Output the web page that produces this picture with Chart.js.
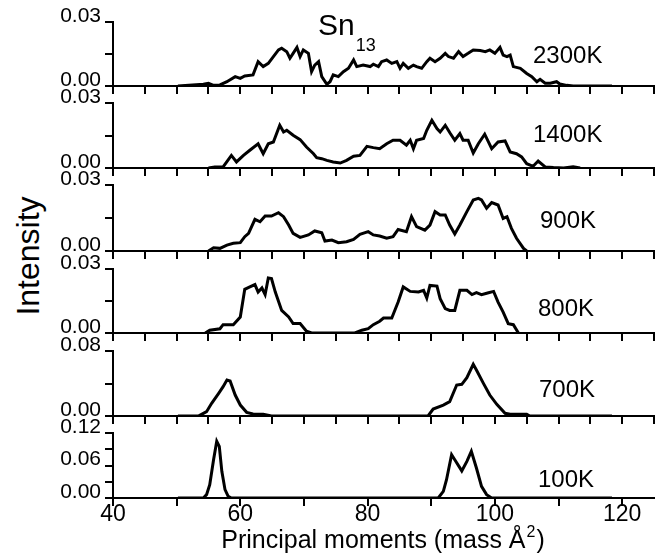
<!DOCTYPE html>
<html>
<head>
<meta charset="utf-8">
<script src="https://cdn.jsdelivr.net/npm/chart.js@4.4.0/dist/chart.umd.min.js"></script>
<style>
  body { margin: 0; background: #fff; }
  #wrap { position: relative; width: 659px; height: 557px; overflow: hidden; font-family: "Liberation Sans", Arial, sans-serif; }
  #wrap canvas { position: absolute; left: 0; }
  #ytitle { position: absolute; left: 28px; top: 256px; transform: translate(-50%, -50%) rotate(-90deg);
            font-size: 32px; line-height: 1; white-space: nowrap; color: #000; }
</style>
</head>
<body>
<div id="wrap">
  <div id="ytitle">Intensity</div>
</div>
<script>
// principal moments (mass Å^2) and intensities, one pair of arrays per temperature
const moment2300K = [50.2, 54.2, 55.0, 55.8, 56.8, 57.9, 59.2, 60.0, 60.7, 62.0,
  62.8, 63.6, 64.4, 65.2, 66.0, 66.5, 67.3, 67.8, 68.3, 68.9,
  69.4, 69.9, 70.7, 71.2, 71.7, 72.3, 72.8, 73.6, 74.1, 74.6,
  75.4, 76.2, 77.0, 77.8, 78.3, 79.3, 80.4, 80.9, 81.7, 82.2,
  83.0, 83.8, 84.6, 85.1, 85.6, 86.4, 87.2, 87.7, 88.5, 89.3,
  89.8, 90.6, 91.4, 92.2, 92.7, 93.5, 94.3, 95.0, 95.8, 96.6,
  97.7, 98.5, 99.2, 100.0, 100.8, 101.3, 101.9, 102.4, 102.9, 104.0,
  105.0, 105.8, 106.6, 107.1, 107.9, 108.7, 109.7, 110.2, 111.3, 112.3,
  118.4];
const intensity2300K = [0, 0.0008, 0.0013, 0.0003, 0.0005, 0.0020, 0.0044, 0.0036, 0.0047, 0.0052,
  0.0114, 0.0091, 0.0106, 0.0138, 0.0169, 0.0177, 0.0161, 0.0130, 0.0153, 0.0181,
  0.0138, 0.0169, 0.0153, 0.0067, 0.0098, 0.0114, 0.0044, 0.0008, 0.0020, 0.0052,
  0.0044, 0.0067, 0.0083, 0.0122, 0.0091, 0.0098, 0.0091, 0.0102, 0.0091, 0.0114,
  0.0122, 0.0106, 0.0114, 0.0083, 0.0106, 0.0083, 0.0098, 0.0091, 0.0083, 0.0114,
  0.0130, 0.0114, 0.0130, 0.0153, 0.0138, 0.0130, 0.0161, 0.0138, 0.0153, 0.0169,
  0.0166, 0.0161, 0.0169, 0.0153, 0.0181, 0.0145, 0.0138, 0.0145, 0.0091, 0.0083,
  0.0059, 0.0044, 0.0020, 0.0031, 0.0013, 0.0013, 0.0020, 0.0009, 0.0003, 0,
  0];

const moment1400K = [55.0, 56.0, 57.3, 58.6, 59.4, 60.5, 61.5, 62.8, 63.6, 64.4,
  65.2, 66.2, 66.8, 67.3, 68.3, 69.4, 70.4, 71.5, 72.0, 72.8,
  73.6, 74.6, 75.7, 76.7, 77.8, 78.8, 79.9, 80.9, 81.9, 83.0,
  84.0, 85.1, 86.1, 86.7, 87.2, 87.7, 88.8, 89.3, 90.1, 90.9,
  91.4, 92.2, 93.0, 93.7, 94.5, 95.0, 95.8, 96.6, 97.4, 98.4,
  99.5, 100.5, 101.6, 102.4, 103.4, 104.2, 105.0, 106.0, 106.8, 107.9,
  109.2, 110.8, 112.3, 113.4];
const intensity1400K = [0, 0.0005, 0.0005, 0.0058, 0.0028, 0.0058, 0.0082, 0.0112, 0.0066, 0.0112,
  0.0120, 0.0197, 0.0166, 0.0174, 0.0151, 0.0131, 0.0097, 0.0066, 0.0048, 0.0043,
  0.0035, 0.0028, 0.0023, 0.0035, 0.0054, 0.0058, 0.0100, 0.0094, 0.0089, 0.0112,
  0.0128, 0.0128, 0.0105, 0.0128, 0.0089, 0.0128, 0.0136, 0.0174, 0.0220, 0.0182,
  0.0166, 0.0197, 0.0159, 0.0128, 0.0159, 0.0128, 0.0128, 0.0069, 0.0112, 0.0156,
  0.0089, 0.0120, 0.0125, 0.0074, 0.0066, 0.0051, 0.0020, 0.0008, 0.0032, 0.0005,
  0.0002, 0, 0.0006, 0];

const moment900K = [55.0, 55.8, 56.8, 57.9, 58.9, 60.0, 60.7, 61.3, 62.3, 63.1,
  63.9, 64.9, 66.0, 66.8, 67.6, 68.3, 69.4, 70.7, 71.7, 72.8,
  73.3, 74.4, 75.4, 76.7, 77.8, 78.8, 80.1, 80.9, 81.9, 83.0,
  84.0, 84.8, 86.1, 86.9, 87.7, 89.0, 89.8, 90.6, 91.4, 92.2,
  92.9, 93.7, 94.5, 95.6, 96.6, 97.4, 97.9, 98.7, 99.5, 100.5,
  101.3, 101.9, 102.6, 103.4, 104.5, 105.0];
const intensity900K = [0, 0.0015, 0.0012, 0.0027, 0.0035, 0.0038, 0.0065, 0.0080, 0.0144, 0.0133,
  0.0159, 0.0159, 0.0174, 0.0156, 0.0118, 0.0080, 0.0062, 0.0073, 0.0091, 0.0083,
  0.0045, 0.0050, 0.0038, 0.0042, 0.0053, 0.0076, 0.0088, 0.0073, 0.0068, 0.0058,
  0.0065, 0.0098, 0.0088, 0.0156, 0.0111, 0.0095, 0.0118, 0.0179, 0.0164, 0.0164,
  0.0118, 0.0077, 0.0118, 0.0179, 0.0232, 0.0239, 0.0232, 0.0194, 0.0220, 0.0209,
  0.0148, 0.0156, 0.0103, 0.0058, 0.0012, 0];

const moment800K = [54.5, 55.2, 56.8, 57.3, 58.9, 60.0, 60.7, 61.5, 62.3, 62.8,
  63.4, 63.9, 64.4, 64.9, 65.5, 66.5, 67.6, 68.3, 69.4, 70.4,
  71.2, 78.0, 79.1, 80.1, 80.9, 81.9, 82.5, 83.8, 84.8, 85.6,
  86.7, 88.0, 88.8, 89.3, 89.8, 90.9, 91.4, 92.2, 92.9, 93.7,
  94.5, 95.6, 96.4, 97.1, 97.9, 99.0, 99.8, 100.5, 101.3, 102.1,
  102.9, 103.7];
const intensity800K = [0, 0.0013, 0.0020, 0.0039, 0.0039, 0.0075, 0.0205, 0.0216, 0.0227, 0.0192,
  0.0211, 0.0180, 0.0258, 0.0255, 0.0192, 0.0106, 0.0075, 0.0044, 0.0044, 0.0008,
  0, 0, 0.0013, 0.0020, 0.0039, 0.0055, 0.0070, 0.0070, 0.0145, 0.0216,
  0.0195, 0.0192, 0.0200, 0.0164, 0.0223, 0.0220, 0.0161, 0.0114, 0.0106, 0.0106,
  0.0200, 0.0200, 0.0180, 0.0189, 0.0180, 0.0189, 0.0195, 0.0145, 0.0098, 0.0044,
  0.0039, 0];

const moment700K = [50.2, 53.4, 54.2, 54.7, 55.5, 56.6, 57.3, 57.9, 58.4, 59.2,
  60.0, 61.0, 62.0, 63.6, 64.9, 89.5, 90.3, 91.9, 92.9, 94.0,
  94.8, 95.6, 96.6, 97.1, 98.2, 99.2, 100.3, 101.6, 102.4, 105.0,
  105.5, 118.4];
const intensity700K = [0, 0, 0.0033, 0.0053, 0.0156, 0.0279, 0.0361, 0.0443, 0.0431, 0.0258,
  0.0135, 0.0045, 0.0025, 0.0021, 0, 0, 0.0086, 0.0135, 0.0176, 0.0381,
  0.0390, 0.0472, 0.0636, 0.0566, 0.0402, 0.0258, 0.0144, 0.0033, 0.0021, 0.0021,
  0, 0];

const moment100K = [50.2, 54.2, 54.7, 55.2, 55.8, 56.3, 56.7, 57.1, 57.6, 58.1,
  58.6, 91.1, 91.9, 92.4, 93.2, 93.7, 94.8, 95.6, 96.3, 97.1,
  97.9, 98.7, 99.5, 118.4];
const intensity100K = [0, 0, 0.0062, 0.0246, 0.0707, 0.1046, 0.0953, 0.0492, 0.0154, 0.0031,
  0, 0, 0.0123, 0.0338, 0.0800, 0.0707, 0.0500, 0.0677, 0.0861, 0.0554,
  0.0215, 0.0062, 0, 0];

const temperatures = ["2300K", "1400K", "900K", "800K", "700K", "100K"];
const yMaxima = [0.03, 0.03, 0.03, 0.03, 0.08, 0.12];
const yTickSteps = [0.015, 0.015, 0.015, 0.015, 0.04, 0.03];
const yLabelSteps = [0.03, 0.03, 0.03, 0.03, 0.08, 0.06];

const series = [
  [moment2300K, intensity2300K],
  [moment1400K, intensity1400K],
  [moment900K, intensity900K],
  [moment800K, intensity800K],
  [moment700K, intensity700K],
  [moment100K, intensity100K]
];

// panel frames on the page (top of plot area, bottom = zero line)
const panelTop = [22, 103, 185, 269, 351, 433];
const panelBottom = [86, 168, 251, 333, 416, 498];
const labelX = [533, 533, 540, 538, 539, 538];
const labelDy = [41, 39, 43, 47, 46, 54];
const FONT = '"Liberation Sans", Arial, sans-serif';
const PAD_TOP = 15;

// draws base text followed by a raised or lowered smaller part
function scriptText(ctx, base, small, x, y, baseSize, smallSize, shift) {
  ctx.font = baseSize + "px " + FONT;
  ctx.fillText(base, x, y);
  const w = ctx.measureText(base).width;
  ctx.font = smallSize + "px " + FONT;
  ctx.fillText(small, x + w + 1, y + shift);
  return w + 1 + ctx.measureText(small).width;
}

// temperature tag in each panel, the cluster name on the first one,
// and the axis title under the last one
const panelText = {
  id: "panelText",
  afterDraw(chart, args, opts) {
    const ctx = chart.ctx;
    const area = chart.chartArea;
    ctx.save();
    ctx.fillStyle = "#000";
    ctx.textAlign = "left";
    ctx.textBaseline = "alphabetic";
    ctx.font = "24px " + FONT;
    ctx.fillText(opts.label, opts.x, area.top + opts.dy);
    if (opts.cluster) {
      scriptText(ctx, "Sn", "13", 318, area.top + 13, 30, 18, 16);
    }
    if (opts.xTitle) {
      const y = area.bottom + 50;
      const head = "Principal moments (mass Å";
      ctx.font = "25px " + FONT;
      const wHead = ctx.measureText(head).width;
      ctx.font = "16px " + FONT;
      const wSup = ctx.measureText("2").width;
      ctx.font = "25px " + FONT;
      const wTail = ctx.measureText(")").width;
      let x = 383 - (wHead + wSup + 2 + wTail) / 2;
      ctx.fillText(head, x, y);
      x += wHead + 1;
      ctx.font = "16px " + FONT;
      ctx.fillText("2", x, y - 11);
      x += wSup + 1;
      ctx.font = "25px " + FONT;
      ctx.fillText(")", x, y);
    }
    ctx.restore();
  }
};

// keep label overhang from shrinking the plot area
function noOverhang(s) {
  s.paddingTop = 0;
  s.paddingBottom = 0;
  s.paddingLeft = 0;
  s.paddingRight = 0;
}

const wrap = document.getElementById("wrap");

series.forEach(([xs, ys], i) => {
  const last = i === series.length - 1;
  const xAxisH = last ? 557 - panelBottom[i] : 10;
  const h = PAD_TOP + (panelBottom[i] - panelTop[i]) + xAxisH;

  const canvas = document.createElement("canvas");
  canvas.width = 659;
  canvas.height = h;
  canvas.style.top = (panelTop[i] - PAD_TOP) + "px";
  wrap.appendChild(canvas);

  const labelStep = yLabelSteps[i];
  new Chart(canvas, {
    type: "line",
    data: {
      datasets: [{
        data: xs.map((x, k) => ({ x: x, y: ys[k] })),
        borderColor: "#000",
        borderWidth: 3,
        pointRadius: 0,
        tension: 0,
        fill: false
      }]
    },
    options: {
      responsive: false,
      animation: false,
      events: [],
      layout: { padding: { left: 0, right: 5, top: PAD_TOP, bottom: 0 } },
      plugins: {
        legend: { display: false },
        tooltip: { enabled: false },
        panelText: { label: temperatures[i], x: labelX[i], dy: labelDy[i], cluster: i === 0, xTitle: last }
      },
      scales: {
        x: {
          type: "linear",
          min: 40,
          max: 125,
          grid: { drawOnChartArea: false, tickLength: 8, lineWidth: 2, color: "#000" },
          border: { width: 2, color: "#000" },
          ticks: last ? {
            stepSize: 10,
            includeBounds: false,
            maxRotation: 0,
            autoSkip: false,
            padding: -5,
            color: "#000",
            font: { family: FONT, size: 23 },
            callback: v => (v % 20 === 0 ? String(v) : "")
          } : { stepSize: 5, display: false },
          afterFit: s => { s.height = xAxisH; noOverhang(s); }
        },
        y: {
          min: 0,
          max: yMaxima[i],
          grid: { drawOnChartArea: false, tickLength: 8, lineWidth: 2, color: "#000" },
          border: { width: 2, color: "#000" },
          ticks: {
            stepSize: yTickSteps[i],
            autoSkip: false,
            padding: 4,
            labelOffset: -6,
            color: "#000",
            font: { family: FONT, size: 21 },
            callback: v => {
              const r = v / labelStep;
              return Math.abs(r - Math.round(r)) < 1e-6 ? v.toFixed(2) : "";
            }
          },
          afterFit: s => { s.width = 113; noOverhang(s); }
        }
      }
    },
    plugins: [panelText]
  });
});
</script>
</body>
</html>
